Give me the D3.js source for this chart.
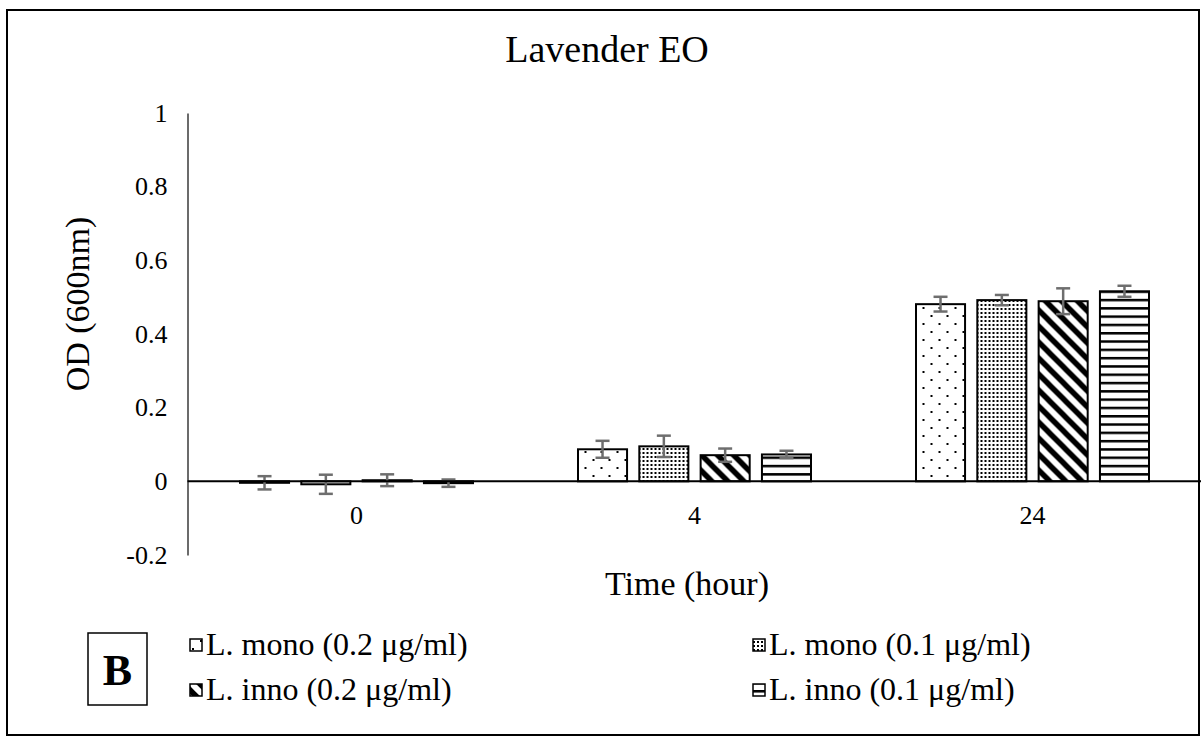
<!DOCTYPE html>
<html>
<head>
<meta charset="utf-8">
<script src="https://cdn.jsdelivr.net/npm/d3@7"></script>
<style>
  html, body { margin: 0; padding: 0; background: #fff; }
  svg { display: block; font-family: "Liberation Serif", "Times New Roman", serif; }
</style>
</head>
<body>
<svg id="chart" width="1201" height="737"></svg>
<script>
// Time points (hours)
const categories = ["0", "4", "24"];
// Series names
const seriesNames = [
  "L. mono (0.2 \u03bcg/ml)",
  "L. mono (0.1 \u03bcg/ml)",
  "L. inno (0.2 \u03bcg/ml)",
  "L. inno (0.1 \u03bcg/ml)"
];
// OD(600nm) means per series, one value per time point
const monoHigh = [-0.004, 0.087, 0.481];
const monoLow  = [-0.008, 0.095, 0.492];
const innoHigh = [0.003, 0.071, 0.489];
const innoLow  = [-0.005, 0.073, 0.516];
// Standard deviations
const monoHighErr = [0.018, 0.023, 0.020];
const monoLowErr  = [0.026, 0.029, 0.014];
const innoHighErr = [0.016, 0.018, 0.035];
const innoLowErr  = [0.010, 0.010, 0.015];
// Y tick labels
const yTicks = [-0.2, 0, 0.2, 0.4, 0.6, 0.8, 1];
const yTickLabels = ["-0.2", "0", "0.2", "0.4", "0.6", "0.8", "1"];

const seriesValues = [monoHigh, monoLow, innoHigh, innoLow];
const seriesErrors = [monoHighErr, monoLowErr, innoHighErr, innoLowErr];
const patternIds = ["pat-sparse", "pat-dense", "pat-diag", "pat-horiz"];
const SERIF = "Liberation Serif, Times New Roman, serif";

const svg = d3.select("#chart");
const defs = svg.append("defs");

// Sparse staggered dots
{
  const p = defs.append("pattern").attr("id", "pat-sparse")
    .attr("patternUnits", "userSpaceOnUse").attr("width", 16).attr("height", 16);
  p.append("rect").attr("width", 16).attr("height", 16).attr("fill", "#fff");
  p.append("rect").attr("x", 2).attr("y", 3).attr("width", 2).attr("height", 2).attr("fill", "#000");
  p.append("rect").attr("x", 10).attr("y", 11).attr("width", 2).attr("height", 2).attr("fill", "#000");
}
// Dense dot grid
{
  const p = defs.append("pattern").attr("id", "pat-dense")
    .attr("patternUnits", "userSpaceOnUse").attr("width", 4).attr("height", 4);
  p.append("rect").attr("width", 4).attr("height", 4).attr("fill", "#fff");
  p.append("rect").attr("x", 0).attr("y", 0).attr("width", 2).attr("height", 2).attr("fill", "#000");
}
// Wide downward diagonal stripes
{
  const p = defs.append("pattern").attr("id", "pat-diag")
    .attr("patternUnits", "userSpaceOnUse").attr("width", 16).attr("height", 16);
  p.append("rect").attr("width", 16).attr("height", 16).attr("fill", "#fff");
  p.append("path")
    .attr("d", "M-4,-4 L20,20 M-4,12 L4,20 M12,-4 L20,4")
    .attr("stroke", "#000").attr("stroke-width", 5.5);
}
// Horizontal lines
{
  const p = defs.append("pattern").attr("id", "pat-horiz")
    .attr("patternUnits", "userSpaceOnUse").attr("width", 8).attr("height", 8.3);
  p.append("rect").attr("width", 8).attr("height", 8.3).attr("fill", "#fff");
  p.append("rect").attr("x", 0).attr("y", 0).attr("width", 8).attr("height", 2.5).attr("fill", "#000");
}

// Outer frame
svg.append("rect")
  .attr("x", 7).attr("y", 10).attr("width", 1192).attr("height", 725)
  .attr("fill", "none").attr("stroke", "#000").attr("stroke-width", 2);

// Scales
const plotLeft = 187.5, plotRight = 1201.5, plotTop = 113, plotBottom = 555;
const x = d3.scaleBand().domain(categories).range([plotLeft, plotRight]).padding(0);
const groupWidth = 233;
const xs = d3.scaleBand().domain(d3.range(seriesNames.length))
  .range([-groupWidth / 2, groupWidth / 2]).paddingInner(0.2);
const y = d3.scaleLinear().domain([-0.2, 1]).range([plotBottom, plotTop]);

// Title
svg.append("text")
  .attr("x", 607).attr("y", 62)
  .attr("text-anchor", "middle").attr("font-size", 38)
  .text("Lavender EO");

// Y axis
const yAxis = d3.axisLeft(y).tickValues(yTicks).tickSize(0).tickPadding(20)
  .tickFormat((d, i) => yTickLabels[i]);
const gy = svg.append("g").attr("transform", `translate(${plotLeft},0)`).call(yAxis);
gy.attr("font-family", SERIF);
gy.select(".domain").attr("stroke", "#6b6b6b").attr("stroke-width", 2);
gy.selectAll(".tick text").attr("font-size", 26).attr("fill", "#000");

// Y axis title
svg.append("text")
  .attr("transform", `translate(89,${(y(1) + y(-0.2)) / 2 - 30}) rotate(-90)`)
  .attr("text-anchor", "middle").attr("font-size", 34)
  .text("OD (600nm)");

// Bars
const groups = svg.append("g").selectAll("g")
  .data(categories)
  .join("g")
  .attr("transform", c => `translate(${x(c) + x.bandwidth() / 2},0)`);

groups.each(function(c, ci) {
  const g = d3.select(this);
  seriesValues.forEach((vals, si) => {
    const v = vals[ci];
    g.append("rect")
      .attr("x", xs(si))
      .attr("y", y(Math.max(0, v)))
      .attr("width", xs.bandwidth())
      .attr("height", Math.max(1, Math.abs(y(v) - y(0))))
      .attr("fill", `url(#${patternIds[si]})`)
      .attr("stroke", "#000").attr("stroke-width", 2);
  });
});

// Zero line
svg.append("line")
  .attr("x1", plotLeft).attr("x2", plotRight)
  .attr("y1", y(0)).attr("y2", y(0))
  .attr("stroke", "#000").attr("stroke-width", 2);

// Error bars
groups.each(function(c, ci) {
  const g = d3.select(this);
  seriesValues.forEach((vals, si) => {
    const v = vals[ci], e = seriesErrors[si][ci];
    const cx = xs(si) + xs.bandwidth() / 2;
    const eg = g.append("g").attr("stroke", "#6e6e6e").attr("stroke-width", 2.5);
    eg.append("line").attr("x1", cx).attr("x2", cx).attr("y1", y(v + e)).attr("y2", y(v - e));
    eg.append("line").attr("x1", cx - 7).attr("x2", cx + 7).attr("y1", y(v + e)).attr("y2", y(v + e));
    eg.append("line").attr("x1", cx - 7).attr("x2", cx + 7).attr("y1", y(v - e)).attr("y2", y(v - e));
  });
});

// Category labels
const xAxis = d3.axisBottom(x).tickSize(0).tickPadding(24);
const gx = svg.append("g").attr("transform", `translate(0,${y(0)})`).call(xAxis);
gx.attr("font-family", SERIF);
gx.select(".domain").remove();
gx.selectAll(".tick text").attr("font-size", 26).attr("fill", "#000");

// X axis title
svg.append("text")
  .attr("x", 687).attr("y", 595)
  .attr("text-anchor", "middle").attr("font-size", 34)
  .text("Time (hour)");

// Panel letter
svg.append("rect").attr("x", 88).attr("y", 633).attr("width", 59).attr("height", 72)
  .attr("fill", "#fff").attr("stroke", "#000").attr("stroke-width", 1.5);
svg.append("text").attr("x", 117.5).attr("y", 685)
  .attr("text-anchor", "middle").attr("font-size", 44).attr("font-weight", "bold")
  .text("B");

// Legend
const legendPos = [[190, 645], [753, 645], [190, 690], [753, 690]];
const legend = svg.append("g").selectAll("g")
  .data(seriesNames)
  .join("g")
  .attr("transform", (d, i) => `translate(${legendPos[i][0]},${legendPos[i][1]})`);
legend.append("rect")
  .attr("x", 0).attr("y", -6).attr("width", 12).attr("height", 12)
  .attr("fill", (d, i) => `url(#${patternIds[i]})`)
  .attr("stroke", "#000").attr("stroke-width", 1.5);
legend.append("text")
  .attr("x", 16).attr("y", 10)
  .attr("font-size", 32)
  .text(d => d);
</script>
</body>
</html>
